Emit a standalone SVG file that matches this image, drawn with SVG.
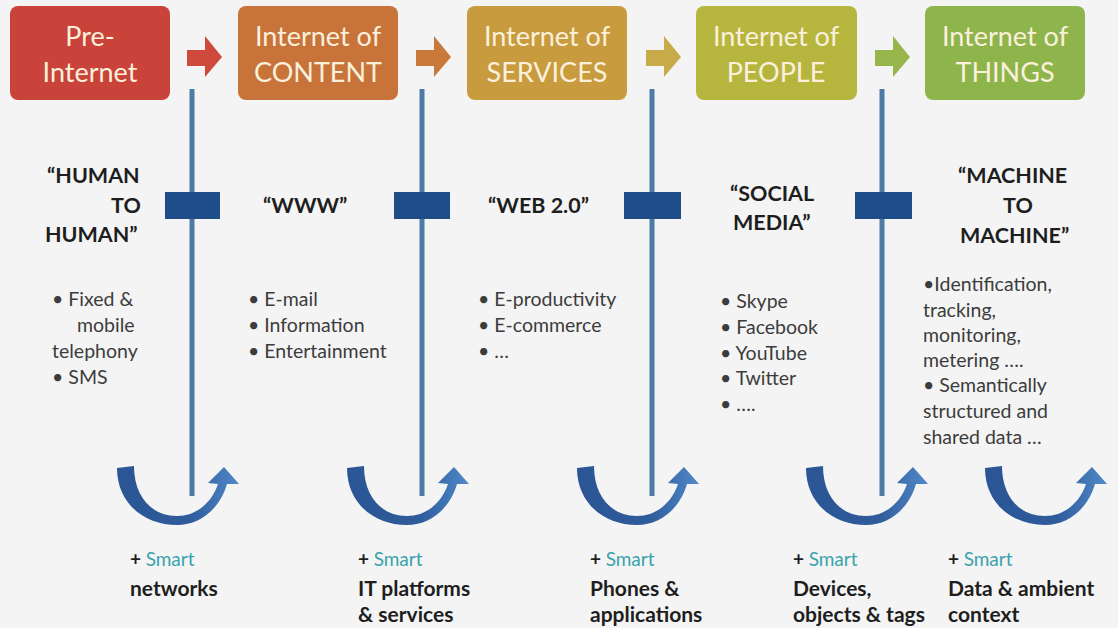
<svg xmlns="http://www.w3.org/2000/svg" width="1118" height="628" viewBox="0 0 1118 628">
<defs>
<linearGradient id="ug" x1="0" y1="0" x2="1" y2="0">
<stop offset="0" stop-color="#2b5594"/>
<stop offset="0.6" stop-color="#2f5c9c"/>
<stop offset="1" stop-color="#5189c8"/>
</linearGradient>
<path id="uarrow" d="M0,2 C0,38 28,59 60,59 C84,59 103,42 110,18 L122,18 L107,1 L91,17 L101,18 C95,36 80,50 60,50 C34,50 17,30 17,0 Z"/>
<path id="rarrow" d="M0,14 L18,14 L18,0 L35,21 L18,41 L18,30 L0,30 Z"/>
</defs>
<style>
.title{font-family:Lato,"Liberation Sans",sans-serif;font-size:27px;fill:#fbf0dc;text-anchor:middle}
.head{font-family:Lato,"Liberation Sans",sans-serif;font-size:21.5px;font-weight:bold;fill:#1e1e1e}
.bul{font-family:Lato,"Liberation Sans",sans-serif;font-size:19.5px;fill:#3c3c3c}
.plus{font-family:Lato,"Liberation Sans",sans-serif;font-size:19px;font-weight:bold;fill:#1e1e1e}
.smart{font-weight:normal;fill:#3aa3ad}
.bot{font-family:Lato,"Liberation Sans",sans-serif;font-size:21px;font-weight:bold;fill:#1e1e1e}
.vline{stroke:#4d7ba6;stroke-width:5}
.bar{fill:#1f4d8a}
</style>
<rect width="1118" height="628" fill="#f4f4f4"/>

<g id="connectors">
<use href="#rarrow" x="187" y="36" fill="#cf4a3c"/>
<use href="#rarrow" x="416" y="36" fill="#c97a3b"/>
<use href="#rarrow" x="646" y="36" fill="#c6ab48"/>
<use href="#rarrow" x="875" y="36" fill="#96b54a"/>
<line class="vline" x1="192" y1="89" x2="192" y2="496"/>
<line class="vline" x1="422" y1="89" x2="422" y2="496"/>
<line class="vline" x1="652" y1="89" x2="652" y2="496"/>
<line class="vline" x1="882" y1="89" x2="882" y2="496"/>
<rect class="bar" x="165" y="192" width="55" height="27"/>
<rect class="bar" x="394" y="192" width="56" height="27"/>
<rect class="bar" x="624" y="192" width="57" height="27"/>
<rect class="bar" x="855" y="192" width="57" height="27"/>
<use href="#uarrow" x="117" y="466" fill="url(#ug)"/>
<use href="#uarrow" x="347" y="466" fill="url(#ug)"/>
<use href="#uarrow" x="577" y="466" fill="url(#ug)"/>
<use href="#uarrow" x="806" y="466" fill="url(#ug)"/>
<use href="#uarrow" x="985" y="466" fill="url(#ug)"/>
</g>

<g id="n1">
<rect x="10" y="6" width="160" height="94" rx="8" fill="#c9433b"/>
<text class="title" x="90" y="46">Pre-</text>
<text class="title" x="90" y="82">Internet</text>
<text class="head" x="47" y="183">“HUMAN</text>
<text class="head" x="111" y="213">TO</text>
<text class="head" x="45" y="242">HUMAN”</text>
<text class="bul" x="52" y="306">•  Fixed  &amp;</text>
<text class="bul" x="77" y="332">mobile</text>
<text class="bul" x="52" y="358">telephony</text>
<text class="bul" x="52" y="384">•  SMS</text>
<text class="plus" x="130" y="566">+ <tspan class="smart">Smart</tspan></text>
<text class="bot" x="130" y="596">networks</text>
</g>

<g id="n2">
<rect x="238" y="6" width="160" height="94" rx="8" fill="#c8733a"/>
<text class="title" x="318" y="46">Internet of</text>
<text class="title" x="318" y="82">CONTENT</text>
<text class="head" x="263" y="213">“WWW”</text>
<text class="bul" x="248" y="306">•  E-mail</text>
<text class="bul" x="248" y="332">•  Information</text>
<text class="bul" x="248" y="358">•  Entertainment</text>
<text class="plus" x="358" y="566">+ <tspan class="smart">Smart</tspan></text>
<text class="bot" x="358" y="596">IT platforms</text>
<text class="bot" x="358" y="622">&amp; services</text>
</g>

<g id="n3">
<rect x="467" y="6" width="160" height="94" rx="8" fill="#c89b3e"/>
<text class="title" x="547" y="46">Internet of</text>
<text class="title" x="547" y="82">SERVICES</text>
<text class="head" x="488" y="213">“WEB 2.0”</text>
<text class="bul" x="478" y="306">•  E-productivity</text>
<text class="bul" x="478" y="332">•  E-commerce</text>
<text class="bul" x="478" y="358">•  …</text>
<text class="plus" x="590" y="566">+ <tspan class="smart">Smart</tspan></text>
<text class="bot" x="590" y="596">Phones &amp;</text>
<text class="bot" x="590" y="622">applications</text>
</g>

<g id="n4">
<rect x="696" y="6" width="161" height="94" rx="8" fill="#b6b63f"/>
<text class="title" x="776" y="46">Internet of</text>
<text class="title" x="776" y="82">PEOPLE</text>
<text class="head" x="730" y="201">“SOCIAL</text>
<text class="head" x="733" y="230">MEDIA”</text>
<text class="bul" x="720" y="308">•  Skype</text>
<text class="bul" x="720" y="334">•  Facebook</text>
<text class="bul" x="720" y="360">•  YouTube</text>
<text class="bul" x="720" y="385">•  Twitter</text>
<text class="bul" x="720" y="411">•   ….</text>
<text class="plus" x="793" y="566">+ <tspan class="smart">Smart</tspan></text>
<text class="bot" x="793" y="596">Devices,</text>
<text class="bot" x="793" y="622">objects &amp; tags</text>
</g>

<g id="n5">
<rect x="925" y="6" width="160" height="94" rx="8" fill="#8eb54c"/>
<text class="title" x="1005" y="46">Internet of</text>
<text class="title" x="1005" y="82">THINGS</text>
<text class="head" x="958" y="183">“MACHINE</text>
<text class="head" x="1003" y="213">TO</text>
<text class="head" x="960" y="243">MACHINE”</text>
<text class="bul" x="923" y="291">•Identification,</text>
<text class="bul" x="923" y="317">tracking,</text>
<text class="bul" x="923" y="342">monitoring,</text>
<text class="bul" x="923" y="367">metering ….</text>
<text class="bul" x="923" y="392">•  Semantically</text>
<text class="bul" x="923" y="418">structured and</text>
<text class="bul" x="923" y="444">shared data …</text>
<text class="plus" x="948" y="566">+ <tspan class="smart">Smart</tspan></text>
<text class="bot" x="948" y="596">Data &amp; ambient</text>
<text class="bot" x="948" y="622">context</text>
</g>
</svg>
